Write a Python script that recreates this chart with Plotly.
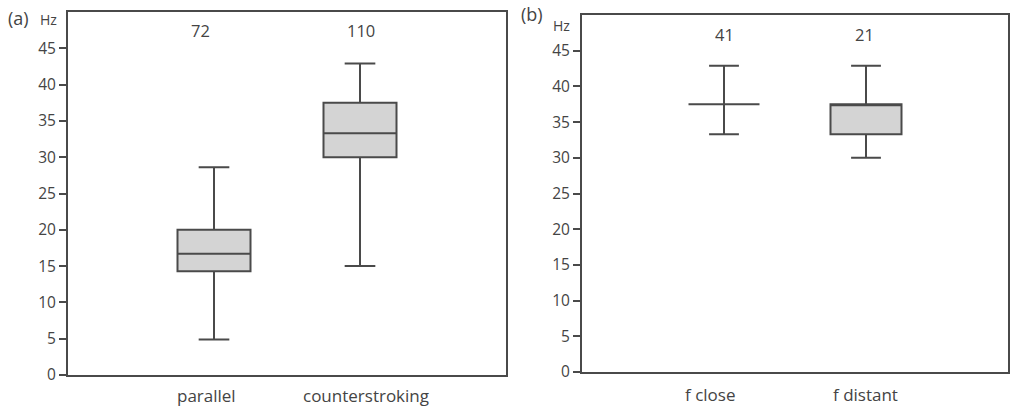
import plotly.graph_objects as go

# ---- data ----
cats_a = ["parallel", "counterstroking"]
n_a = ["72", "110"]
low_a = [4.9, 15.0]
q1_a = [14.3, 30.0]
med_a = [16.7, 33.3]
q3_a = [20.0, 37.5]
high_a = [28.6, 42.9]

cats_b = ["f close", "f distant"]
n_b = ["41", "21"]
low_b = [33.3, 30.0]
q1_b = [37.5, 33.3]
med_b = [37.5, 37.5]
q3_b = [37.5, 37.5]
high_b = [42.9, 42.9]

yticks = [0, 5, 10, 15, 20, 25, 30, 35, 40, 45]

FONT = "Open Sans"
DARK = "#4a4a4a"
TXT = "#444444"

fig = go.Figure()

def add_box(cats, low, q1, med, q3, high, xa, ya):
    fig.add_trace(go.Box(
        x=cats, q1=q1, median=med, q3=q3, lowerfence=low, upperfence=high,
        xaxis=xa, yaxis=ya, width=0.5, whiskerwidth=0.42,
        fillcolor="#d4d4d4", line=dict(color=DARK, width=2),
        boxpoints=False, hoverinfo="skip", showlegend=False))

add_box(cats_a, low_a, q1_a, med_a, q3_a, high_a, "x", "y")
add_box(cats_b, low_b, q1_b, med_b, q3_b, high_b, "x2", "y2")

axis_common = dict(showgrid=False, zeroline=False, showline=True, mirror=True,
                   linecolor=DARK, linewidth=2, automargin=False)
ytick_style = dict(ticks="outside", ticklen=7, tickwidth=1.5, tickcolor=DARK,
                   tickfont=dict(size=15.5, color=TXT, family=FONT))

fig.update_layout(
    width=1012, height=410, margin=dict(l=0, r=0, t=0, b=0),
    paper_bgcolor="white", plot_bgcolor="white",
    font=dict(family=FONT, color=TXT, size=13),
    xaxis=dict(domain=[68/1012, 506/1012], type="category", range=[-1, 2],
               showticklabels=False, ticks="", **axis_common),
    yaxis=dict(domain=[1-375/410, 1-12/410], range=[0, 50], tickvals=yticks,
               **ytick_style, **axis_common),
    xaxis2=dict(domain=[582/1012, 1008/1012], type="category", range=[-1, 2],
                anchor="y2", showticklabels=False, ticks="", **axis_common),
    yaxis2=dict(domain=[1-372/410, 1-15/410], range=[0, 50], tickvals=yticks,
                anchor="x2", **ytick_style, **axis_common),
)

def lab(x, xref, y, text, size, dx=0):
    return dict(x=x, xref=xref, y=1-y/410, yref="paper", text=text, showarrow=False,
                xanchor="center", yanchor="middle", xshift=dx,
                font=dict(size=size, color=TXT, family=FONT))

ann = []
# category labels below axes
for c, dx in zip(cats_a, [-8, 6]):
    ann.append(lab(c, "x", 395, c, 17, dx))
for c, dx in zip(cats_b, [-14, -1]):
    ann.append(lab(c, "x2", 394, c, 17, dx))
# counts above boxes
for c, n, dx in zip(cats_a, n_a, [-14, 1]):
    ann.append(lab(c, "x", 31, n, 16.5, dx))
for c, n, dx in zip(cats_b, n_b, [0, -2]):
    ann.append(lab(c, "x2", 35, n, 16.5, dx))
# panel letters and units
def corner(x, y, text, size):
    return dict(x=x/1012, y=1-y/410, xref="paper", yref="paper", text=text,
                showarrow=False, xanchor="left", yanchor="middle",
                font=dict(size=size, color=TXT, family=FONT))
ann += [
    corner(6, 18, "(a)", 18),
    corner(38, 19, "Hz", 14),
    corner(519, 14, "(b)", 18),
    corner(551, 25, "Hz", 14),
]
fig.update_layout(annotations=ann)

fig.write_html("out.html")
